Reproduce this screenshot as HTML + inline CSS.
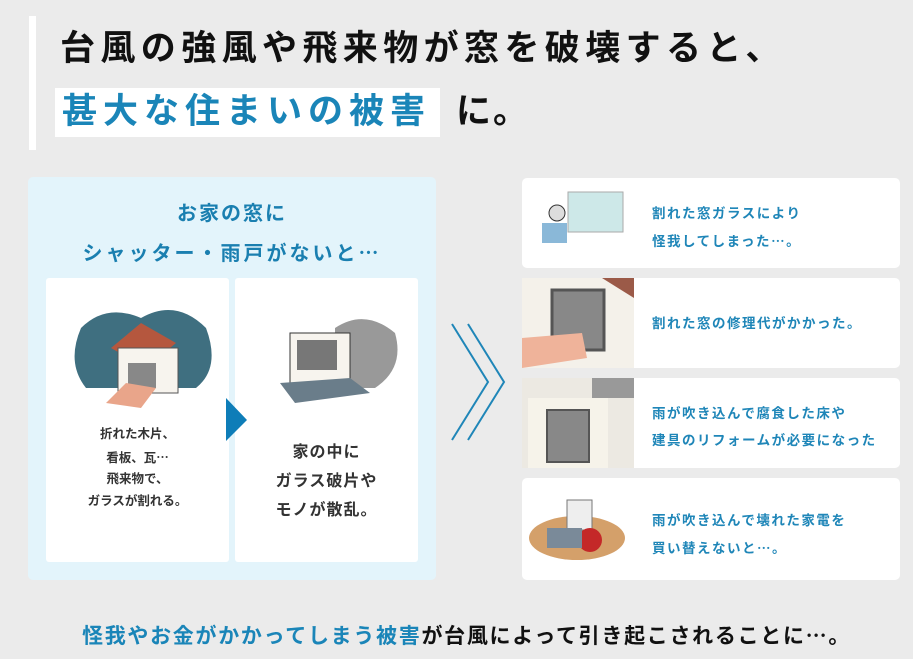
<!DOCTYPE html>
<html><head><meta charset="utf-8"><style>
*{margin:0;padding:0;box-sizing:border-box}
body{width:913px;height:659px;background:#ebebeb;position:relative;overflow:hidden;font-family:"Liberation Sans","Noto Sans CJK JP",sans-serif}
.a{position:absolute;white-space:nowrap}
.t{font-weight:bold;color:#111}
.blue{color:#1a7fb0}
.card{position:absolute;background:#fff;border-radius:5px}
.rt{position:absolute;left:130px;font-size:13.5px;font-weight:bold;color:#1f86b8;line-height:27px;letter-spacing:1.5px}
.e{font-family:"Noto Sans CJK JP",sans-serif}
</style></head><body>
<div class="a" style="left:29px;top:16px;width:7px;height:134px;background:#fff"></div>
<div class="a t" style="left:60px;top:27px;font-size:35px;letter-spacing:5.4px;line-height:44px">台風の強風や飛来物が窓を破壊すると、</div>
<div class="a" style="left:55px;top:88px;width:385px;height:49px;background:#fff"></div>
<div class="a t" style="left:62px;top:90px;font-size:35px;letter-spacing:6px;line-height:44px;color:#1a85b8">甚大な住まいの被害</div>
<div class="a t" style="left:456px;top:90px;font-size:35px;letter-spacing:2px;line-height:44px">に。</div>

<div class="a" style="left:28px;top:177px;width:408px;height:403px;background:#e3f4fb;border-radius:5px"></div>
<div class="a blue" style="left:28px;width:408px;top:199px;text-align:center;font-size:20px;font-weight:bold;letter-spacing:2px;line-height:30px">お家の窓に</div>
<div class="a blue" style="left:28px;width:408px;top:237px;text-align:center;font-size:20px;font-weight:bold;letter-spacing:3px;line-height:30px">シャッター・雨戸がないと<span class="e">…</span></div>
<div class="card" style="left:46px;top:278px;width:183px;height:284px;border-radius:3px">
<svg width="183" height="130" style="position:absolute;left:0;top:0">
<path d="M35 50 Q60 25 95 40 Q130 20 160 50 Q175 90 150 110 L40 110 Q20 85 35 50Z" fill="#3f6f80"/>
<polygon points="65,70 95,45 130,65 100,90" fill="#b5573e"/>
<rect x="72" y="70" width="60" height="45" fill="#f7f4ee" stroke="#555"/>
<rect x="82" y="85" width="28" height="25" fill="#888"/>
<polygon points="60,125 80,105 110,110 95,130" fill="#e9a58a"/>
</svg>
<div style="position:absolute;top:146px;width:100%;text-align:center;font-size:12.5px;line-height:21.5px;color:#333;font-weight:bold">折れた木片、<br>看板、瓦<span class="e">…</span><br>飛来物で、<br>ガラスが割れる。</div>
</div>
<div class="card" style="left:235px;top:278px;width:183px;height:284px;border-radius:3px">
<svg width="183" height="130" style="position:absolute;left:0;top:0">
<path d="M100 50 Q130 30 160 55 Q170 90 140 110 L100 110Z" fill="#999"/>
<rect x="55" y="55" width="60" height="50" fill="#f7f4ee" stroke="#333"/>
<rect x="62" y="62" width="40" height="30" fill="#777"/>
<polygon points="45,105 115,100 135,115 60,125" fill="#6a7d8a"/>
</svg>
<div style="position:absolute;top:160px;width:100%;text-align:center;font-size:16px;line-height:29px;color:#333;font-weight:bold;letter-spacing:1px">家の中に<br>ガラス破片や<br>モノが散乱。</div>
</div>
<svg class="a" style="left:226px;top:398px" width="22" height="44"><polygon points="0,0 21,22 0,43" fill="#0e7db8"/></svg>
<svg class="a" style="left:448px;top:320px" width="60" height="125"><polyline points="4,4 40,62 4,120" fill="none" stroke="#1f86b8" stroke-width="2"/><polyline points="20,4 56,62 20,120" fill="none" stroke="#1f86b8" stroke-width="2"/></svg>

<div class="card" style="left:522px;top:178px;width:378px;height:90px">
<svg width="110" height="90" style="position:absolute;left:0;top:0"><rect x="46" y="14" width="55" height="40" fill="#cde8e8" stroke="#aaa"/><circle cx="35" cy="35" r="8" fill="#ddd" stroke="#333"/><rect x="20" y="45" width="25" height="20" fill="#8ab8d8"/></svg>
<div class="rt" style="top:22px">割れた窓ガラスにより<br>怪我してしまった<span class="e">…</span>。</div></div>
<div class="card" style="left:522px;top:278px;width:378px;height:90px">
<svg width="112" height="90" style="position:absolute;left:0;top:0"><rect width="112" height="90" fill="#f4f1ea"/><rect x="30" y="12" width="52" height="60" fill="#888" stroke="#555" stroke-width="3"/><polygon points="0,60 60,55 65,80 0,90" fill="#efb39a"/><polygon points="80,0 112,0 112,20" fill="#9b5a48"/></svg>
<div class="rt" style="top:32px">割れた窓の修理代がかかった。</div></div>
<div class="card" style="left:522px;top:378px;width:378px;height:90px">
<svg width="112" height="90" style="position:absolute;left:0;top:0"><rect width="112" height="90" fill="#ece9e2"/><rect x="6" y="20" width="80" height="70" fill="#f6f3ea"/><rect x="25" y="32" width="42" height="52" fill="#888" stroke="#555" stroke-width="2"/><rect x="70" y="0" width="42" height="20" fill="#999"/></svg>
<div class="rt" style="top:22px">雨が吹き込んで腐食した床や<br>建具のリフォームが必要になった</div></div>
<div class="card" style="left:522px;top:478px;width:378px;height:102px">
<svg width="112" height="102" style="position:absolute;left:0;top:0"><ellipse cx="55" cy="60" rx="48" ry="22" fill="#d4a06a"/><rect x="45" y="22" width="25" height="30" fill="#eee" stroke="#777"/><circle cx="68" cy="62" r="12" fill="#c42828"/><rect x="25" y="50" width="35" height="20" fill="#7a8a99"/></svg>
<div class="rt" style="top:29px">雨が吹き込んで壊れた家電を<br>買い替えないと<span class="e">…</span>。</div></div>

<div class="a" style="left:82px;top:620px;font-size:21px;font-weight:bold;letter-spacing:1.7px;line-height:30px;color:#111"><span style="color:#1a85b8">怪我やお金がかかってしまう被害</span>が台風によって引き起こされることに<span class="e">…</span>。</div>
</body></html>
